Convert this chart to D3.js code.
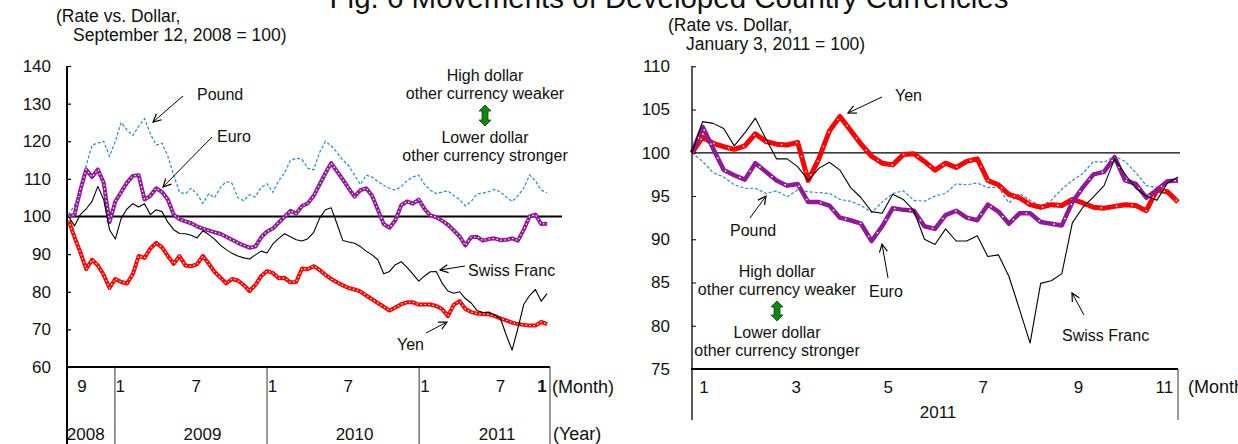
<!DOCTYPE html>
<html>
<head>
<meta charset="utf-8">
<script src="https://cdn.jsdelivr.net/npm/d3@7"></script>
<style>
  body { margin: 0; background: #fff; }
  svg { display: block; font-family: "Liberation Sans", Arial, sans-serif; }
</style>
</head>
<body>
<script>
// ---- left panel: rate vs dollar, 12 Sep 2008 = 100, one value every two weeks ----
const leftStart = new Date(2008, 8, 12);
const leftYen = [99, 94.5, 90.5, 86, 88.5, 87, 84.5, 81, 83.4, 82.6, 82.2, 84.7, 89.5, 89, 91.5, 93, 91.8, 89.5, 87.4, 89.5,
  87, 86.8, 87.3, 89.5, 87.5, 85.3, 83.8, 82.2, 83.4, 83, 81.8, 80.2, 81.8, 84.2, 85.5, 85, 83.6, 83.7, 82.5, 82.6,
  86.2, 86, 86.8, 85.8, 84.5, 83.4, 82.5, 81.7, 81, 80.6, 80.1, 79, 78, 77, 76, 75, 75.8, 76.7, 77.2, 77.2,
  76.6, 76.6, 76.6, 76.2, 75.4, 73.5, 76.5, 77.5, 75.4, 74.6, 74.2, 74.1, 74, 73.6, 72.9, 72.4, 71.8, 71.4, 71.2, 71,
  71, 72, 71.4];
const leftEuro = [100, 100.5, 107, 112.5, 110.5, 112.5, 109, 98.5, 104, 106.5, 109, 110.8, 111, 104.5, 105.5, 107.5, 106.5, 104.5, 100.5, 99.3,
  98.7, 98.2, 97.4, 96.8, 96.3, 95.8, 95.4, 94.6, 93.8, 93, 92.3, 91.7, 92, 94.5, 96, 96.8, 98.4, 99.9, 101.5, 100.8,
  102.8, 103.5, 105.5, 108.5, 111.5, 114.2, 112, 109.8, 107.5, 105.3, 107, 107.5, 105.5, 101.8, 98, 97, 99, 103, 104, 103.4,
  104.5, 102, 100.3, 99.8, 98.9, 97.8, 96.3, 94.7, 92.3, 94.5, 94.6, 93.6, 94, 94.2, 93.7, 93.8, 94.2, 93.6, 96.5, 100,
  100.5, 98, 98.1];
const leftPound = [100.5, 103, 107, 113.5, 119, 119.5, 120, 116, 120, 125, 123, 121.5, 124, 126, 122, 119, 119.5, 116, 111, 106.5,
  106, 107.5, 106, 103.5, 106, 105, 107.7, 109.3, 108.8, 105, 104.2, 105.8, 105.2, 107.8, 108.7, 106.4, 109.5, 111.5, 114.9, 115.5,
  115.2, 112.8, 112.4, 117, 120, 118.8, 117, 115, 113.5, 111, 108.5, 111, 110.5, 109.3, 108.3, 107.5, 107, 108, 109.5, 110.5,
  111, 108.5, 107, 106.1, 106.5, 106.8, 105.6, 104.5, 102.8, 104, 106, 106.2, 106.6, 107.2, 106.5, 105.2, 104, 105.5, 107.5, 111,
  109.5, 107, 106.3];
const leftFranc = [100, 97.5, 100.5, 102, 104, 108, 104.5, 96.5, 94, 99.5, 102, 103.4, 102.5, 103.4, 100.5, 101.8, 101.3, 98.5, 96.5, 95.5,
  95.4, 95, 94.3, 96.2, 95.2, 94, 92.4, 91.2, 90.2, 89.5, 89, 88.7, 89.8, 90.8, 90.3, 92.7, 94.2, 95.4, 94.6, 93.8,
  93.5, 94.1, 95.8, 99.5, 101.8, 102.3, 98, 93.6, 93.2, 92.9, 92, 90.8, 89.8, 88.5, 84.8, 85.4, 87.2, 88, 86.5, 84.7,
  82.8, 84.2, 85.3, 85.4, 82.3, 80.2, 79.6, 80, 78.2, 77, 75, 74.5, 74.6, 73.8, 72.9, 68.5, 64.5, 70.3, 76.6, 79,
  80.6, 77.5, 79.5];

const leftYTicks = [60, 70, 80, 90, 100, 110, 120, 130, 140];
const leftMonthLabels = ["9", "1", "7", "1", "7", "1", "7", "1"];
const leftMonthDates = ["2008-10-14", "2009-01-14", "2009-07-15", "2010-01-14", "2010-07-15", "2011-01-15", "2011-07-15", "2011-10-23"];
const leftYearLabels = ["2008", "2009", "2010", "2011"];
const leftYearDates = ["2008-10-23", "2009-07-30", "2010-07-30", "2011-07-07"];
const leftYearBreaks = ["2009-01-01", "2010-01-01", "2011-01-01"];

// ---- right panel: rate vs dollar, 3 Jan 2011 = 100, one value a week ----
const rightStart = new Date(2011, 0, 3);
const rightYen = [100, 101.8, 101.1, 100.7, 100.4, 100.8, 102.2, 101.3, 101, 100.9, 101.2, 96.8, 99.3, 102.5, 104.2, 102.6, 101, 99.6, 98.8, 98.6,
  99.8, 99.9, 99, 98, 98.8, 98.3, 99, 99.3, 96.8, 96.3, 95.2, 94.8, 94, 93.7, 94, 93.9, 94.6, 94.2, 93.7, 93.6,
  93.8, 94, 93.9, 93.3, 95.7, 95.5, 94.3];
const rightEuro = [100, 103, 100.5, 98, 97.4, 96.9, 98.8, 97.8, 96.8, 96.2, 96.4, 94.3, 94.3, 93.9, 92.5, 92.2, 91.8, 89.8, 91.5, 93.6,
  93.4, 93.3, 91.5, 91.2, 92.8, 93.3, 92.5, 92.2, 94, 93.2, 91.8, 93, 93, 92, 91.8, 91.6, 94.3, 96, 97.5, 97.8,
  99.5, 96.8, 96.4, 94.8, 95.7, 96.7, 96.8];
const rightPound = [100, 99, 97.7, 97.2, 96.3, 95.9, 95.9, 95.3, 95.6, 94.9, 95.7, 95.5, 95.4, 95.3, 94.6, 94.4, 93.9, 93.1, 94.3, 95.3,
  95.6, 94.5, 94.4, 95, 95.3, 96.4, 96.3, 96.5, 96, 96, 94.2, 95.3, 94.5, 93.8, 94.5, 95.8, 96.8, 97.6, 99, 98.9,
  99.6, 99, 97.7, 96.2, 96, 96.8, 96.6];
const rightFranc = [100, 103.6, 103.4, 102.8, 100.8, 102.3, 104, 101.6, 99.3, 99.3, 98.4, 96.8, 98.2, 98.9, 98, 96, 94.8, 93.2, 93, 95.2,
  94.6, 93.3, 90, 89.4, 91.2, 89.8, 89.8, 90.4, 88, 88.2, 85.7, 81.9, 78, 84.9, 85.2, 86, 91.9, 93.7, 94.9, 96.2,
  99.3, 97.5, 95.9, 95, 94.5, 96.5, 97.2];

const rightYTicks = [75, 80, 85, 90, 95, 100, 105, 110];
const rightMonthLabels = ["1", "3", "5", "7", "9", "11"];
const rightMonthDates = ["2011-01-11", "2011-03-13", "2011-05-13", "2011-07-15", "2011-09-16", "2011-11-12"];

const parse = d3.timeParse("%Y-%m-%d");
const W = 1238, H = 444;

const svg = d3.select("body").append("svg")
    .attr("width", W).attr("height", H);

const defs = svg.append("defs");
defs.append("marker").attr("id", "arr")
    .attr("viewBox", "0 0 10 10").attr("refX", 9).attr("refY", 5)
    .attr("markerWidth", 10).attr("markerHeight", 10)
    .attr("markerUnits", "userSpaceOnUse").attr("orient", "auto")
  .append("path").attr("d", "M1,1 L9,5 L1,9")
    .attr("fill", "none").attr("stroke", "#000").attr("stroke-width", 1.2);

// title (cut off at the top of the picture, as in the original)
svg.append("text").attr("x", 669).attr("y", 8).attr("text-anchor", "middle")
    .attr("font-size", 29.5).attr("fill", "#111")
    .text("Fig. 6  Movements of Developed Country Currencies");

function series(vals, start, step) {
  return vals.map((v, i) => ({ date: d3.timeDay.offset(start, i * step), value: v }));
}

function drawLines(g, x, y, sets, thick) {
  const line = d3.line().x(d => x(d.date)).y(d => y(d.value));
  sets.forEach(s => {
    if (s.kind === "dash") {
      g.append("path").datum(s.data).attr("d", line).attr("fill", "none")
        .attr("stroke", s.color).attr("stroke-width", 1.2).attr("stroke-dasharray", "3,2");
    } else if (s.kind === "thin") {
      g.append("path").datum(s.data).attr("d", line).attr("fill", "none")
        .attr("stroke", s.color).attr("stroke-width", 1.1).attr("stroke-linejoin", "round");
    } else {
      g.append("path").datum(s.data).attr("d", line).attr("fill", "none")
        .attr("stroke", s.color).attr("stroke-width", thick ? s.w : 4).attr("stroke-linejoin", "round");
      g.append("path").datum(s.data).attr("d", line).attr("fill", "none")
        .attr("stroke", "#fff").attr("stroke-width", thick ? 1.4 : 1.1)
        .attr("stroke-dasharray", thick ? "1.5,14" : "1.5,2.5");
    }
  });
}

function arrow(x1, y1, x2, y2) {
  svg.append("line").attr("x1", x1).attr("y1", y1).attr("x2", x2).attr("y2", y2)
    .attr("stroke", "#000").attr("stroke-width", 1).attr("marker-end", "url(#arr)");
}

function label(txt, x, y, anchor, size) {
  svg.append("text").attr("x", x).attr("y", y).attr("text-anchor", anchor || "start")
    .attr("font-size", size || 16).attr("fill", "#111").text(txt);
}

function dollarNote(cx, y1, y2) {
  label("High dollar", cx, y1, "middle");
  label("other currency weaker", cx, y1 + 18, "middle");
  label("Lower dollar", cx, y2, "middle");
  label("other currency stronger", cx, y2 + 18, "middle");
  const top = y1 + 24, bot = y2 - 17, mx = cx;
  const p = `M${mx},${top} L${mx + 6},${top + 6} L${mx + 3},${top + 6} L${mx + 3},${bot - 6} L${mx + 6},${bot - 6}
    L${mx},${bot} L${mx - 6},${bot - 6} L${mx - 3},${bot - 6} L${mx - 3},${top + 6} L${mx - 6},${top + 6} Z`;
  svg.append("path").attr("d", p).attr("fill", "#0a8a0a").attr("stroke", "#1b3b1b").attr("stroke-width", 0.8);
}

// ================= LEFT PANEL =================
const xL = d3.scaleTime().domain([new Date(2008, 8, 8), new Date(2011, 10, 11)]).range([67, 550]);
const yL = d3.scaleLinear().domain([60, 140]).range([367, 66]);

label("(Rate vs. Dollar,", 56, 22, "start", 17.5);
label("September 12, 2008 = 100)", 73, 41, "start", 17.5);

const gL = svg.append("g");
gL.append("g").attr("transform", "translate(67,0)")
  .call(d3.axisLeft(yL).tickValues(leftYTicks).tickSizeInner(-4).tickSizeOuter(0).tickPadding(16))
  .call(g => g.select(".domain").remove())
  .call(g => g.selectAll("line").attr("stroke", "#000").attr("stroke-width", 1.2))
  .call(g => g.selectAll("text").attr("font-size", 17).attr("fill", "#111")
    .attr("font-family", "Liberation Sans, Arial, sans-serif"));

// 100 line
gL.append("line").attr("x1", 67).attr("x2", 562).attr("y1", yL(100)).attr("y2", yL(100))
  .attr("stroke", "#000").attr("stroke-width", 2);

drawLines(gL, xL, yL, [
  { kind: "dash", color: "#2a86d4", data: series(leftPound, leftStart, 14) },
  { kind: "ribbon", color: "#ff0000", data: series(leftYen, leftStart, 14) },
  { kind: "ribbon", color: "#8e1a96", data: series(leftEuro, leftStart, 14) },
  { kind: "thin", color: "#000", data: series(leftFranc, leftStart, 14) }
], false);

// axes frame
gL.append("line").attr("x1", 67).attr("x2", 67).attr("y1", 66).attr("y2", H).attr("stroke", "#000").attr("stroke-width", 2);
gL.append("line").attr("x1", 66).attr("x2", 550).attr("y1", yL(60)).attr("y2", yL(60)).attr("stroke", "#000").attr("stroke-width", 2);
gL.append("line").attr("x1", 550).attr("x2", 550).attr("y1", yL(60)).attr("y2", H).attr("stroke", "#333").attr("stroke-width", 1);
gL.selectAll(".yb").data(leftYearBreaks).enter().append("line")
  .attr("x1", d => xL(parse(d))).attr("x2", d => xL(parse(d)))
  .attr("y1", yL(60)).attr("y2", H).attr("stroke", "#333").attr("stroke-width", 1);

gL.selectAll(".ml").data(leftMonthLabels).enter().append("text")
  .attr("x", (d, i) => xL(parse(leftMonthDates[i]))).attr("y", 392)
  .attr("text-anchor", "middle").attr("font-size", 17).attr("fill", "#111")
  .attr("font-weight", (d, i) => i === leftMonthLabels.length - 1 ? "bold" : "normal")
  .text(d => d);
gL.selectAll(".yl").data(leftYearLabels).enter().append("text")
  .attr("x", (d, i) => xL(parse(leftYearDates[i]))).attr("y", 440)
  .attr("text-anchor", "middle").attr("font-size", 17).attr("fill", "#111").text(d => d);
label("(Month)", 552, 393, "start", 18);
label("(Year)", 553, 440, "start", 18);

// left annotations
label("Pound", 197, 100);
arrow(183, 96, 153, 122);
label("Euro", 217, 142);
arrow(212, 137, 163, 187);
label("Swiss Franc", 468, 276);
arrow(465, 266, 440, 270);
label("Yen", 397, 350);
arrow(426, 333, 447, 322);
dollarNote(485, 81, 143);

// ================= RIGHT PANEL =================
const xR = d3.scaleTime().domain([new Date(2011, 0, 3), new Date(2011, 10, 21)]).range([692, 1178]);
const yR = d3.scaleLinear().domain([75, 110]).range([369, 66.3]);

label("(Rate vs. Dollar,", 668, 31, "start", 17.5);
label("January 3, 2011 = 100)", 686, 50, "start", 17.5);

const gR = svg.append("g");
gR.append("g").attr("transform", "translate(692,0)")
  .call(d3.axisLeft(yR).tickValues(rightYTicks).tickSizeInner(-4).tickSizeOuter(0).tickPadding(22))
  .call(g => g.select(".domain").remove())
  .call(g => g.selectAll("line").attr("stroke", "#000").attr("stroke-width", 1))
  .call(g => g.selectAll("text").attr("font-size", 17).attr("fill", "#111")
    .attr("font-family", "Liberation Sans, Arial, sans-serif"));

gR.append("line").attr("x1", 692).attr("x2", 1180).attr("y1", yR(100)).attr("y2", yR(100))
  .attr("stroke", "#000").attr("stroke-width", 1.3);

drawLines(gR, xR, yR, [
  { kind: "dash", color: "#2a86d4", data: series(rightPound, rightStart, 7) },
  { kind: "ribbon", color: "#ff0000", w: 5, data: series(rightYen, rightStart, 7) },
  { kind: "ribbon", color: "#8e1a96", w: 4.5, data: series(rightEuro, rightStart, 7) },
  { kind: "thin", color: "#000", data: series(rightFranc, rightStart, 7) }
], true);

gR.append("line").attr("x1", 692).attr("x2", 692).attr("y1", 66).attr("y2", 420).attr("stroke", "#000").attr("stroke-width", 1.3);
gR.append("line").attr("x1", 691).attr("x2", 1178).attr("y1", yR(75)).attr("y2", yR(75)).attr("stroke", "#000").attr("stroke-width", 2.2);
gR.append("line").attr("x1", 1178).attr("x2", 1178).attr("y1", yR(75)).attr("y2", 420).attr("stroke", "#333").attr("stroke-width", 1);

gR.selectAll(".ml").data(rightMonthLabels).enter().append("text")
  .attr("x", (d, i) => xR(parse(rightMonthDates[i]))).attr("y", 393)
  .attr("text-anchor", "middle").attr("font-size", 17).attr("fill", "#111").text(d => d);
gR.append("text").attr("x", xR(parse("2011-06-15"))).attr("y", 418)
  .attr("text-anchor", "middle").attr("font-size", 17).attr("fill", "#111").text("2011");
label("(Month)", 1188, 393, "start", 18);

// right annotations
label("Yen", 895, 101);
arrow(882, 97, 848, 113);
label("Pound", 730, 236);
arrow(750, 218, 766, 196);
label("Euro", 869, 297);
arrow(888, 278, 882, 244);
label("Swiss Franc", 1062, 341);
arrow(1084, 315, 1072, 293);
dollarNote(777, 277, 338);
</script>
</body>
</html>
